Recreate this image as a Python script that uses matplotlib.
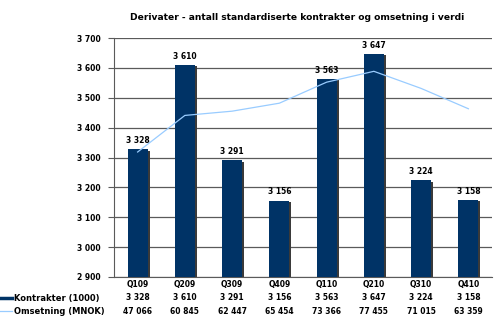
import matplotlib
matplotlib.use('Agg')
import matplotlib.pyplot as plt
import matplotlib.transforms as mtransforms
import numpy as np

# quarterly derivatives data
kvartal = ['Q109', 'Q209', 'Q309', 'Q409', 'Q110', 'Q210', 'Q310', 'Q410']
kontrakter = [3328, 3610, 3291, 3156, 3563, 3647, 3224, 3158]
omsetning = [47066, 60845, 62447, 65454, 73366, 77455, 71015, 63359]

tittel = 'Derivater - antall standardiserte kontrakter og omsetning i verdi'
serie_navn = ['Kontrakter (1000)', 'Omsetning (MNOK)']
y_ticks = [2900, 3000, 3100, 3200, 3300, 3400, 3500, 3600, 3700]

navy = '#003366'
lysbla = '#99ccff'
fnt = dict(family='DejaVu Sans', weight='bold')


def fmt(v):
    # norwegian style thousands separator
    return '{:,}'.format(v).replace(',', ' ')


fig = plt.figure(figsize=(4.95, 3.18), dpi=100)
ax = fig.add_axes([114/495, 41/318, 378/495, 239/318])

x = np.arange(len(kvartal))
w = 0.42

# shadow behind bars
shadow = mtransforms.offset_copy(ax.transData, fig=fig, x=2, y=-1.5, units='dots')
ax.bar(x, np.array(kontrakter) - 2900, w, bottom=2900, color='#3a3a3a',
       transform=shadow, zorder=2)
bars = ax.bar(x, np.array(kontrakter) - 2900, w, bottom=2900, color=navy, zorder=3)

for xi, v in zip(x, kontrakter):
    ax.annotate(fmt(v), (xi, v), xytext=(0, 3), textcoords='offset points',
                ha='center', va='bottom', fontsize=5.5, **fnt)

ax.set_ylim(2900, 3700)
ax.set_xlim(-0.5, len(kvartal) - 0.5)
ax.set_yticks(y_ticks)
ax.set_yticklabels([fmt(t) for t in y_ticks], fontsize=5.5, **fnt)
ax.yaxis.grid(True, color='#5a5a5a', linewidth=0.9, zorder=0)
ax.set_axisbelow(True)
ax.tick_params(axis='y', length=4, width=0.8, color='#5a5a5a', pad=5.5)
ax.set_xticks([])
for s in ['top', 'right']:
    ax.spines[s].set_visible(False)
ax.spines['left'].set_color('#5a5a5a')
ax.spines['bottom'].set_color('#5a5a5a')

# secondary (hidden) axis for turnover
ax2 = ax.twinx()
ax2.plot(x, omsetning, color=lysbla, linewidth=0.9, zorder=4)
ax2.set_ylim(0, 90000)
ax2.set_yticks([])
for s in ax2.spines.values():
    s.set_visible(False)

fig.text(297/495, 1 - 18/318, tittel, ha='center', va='center', fontsize=6.6, **fnt)

# data table below the axis
trans = mtransforms.blended_transform_factory(ax.transData, fig.transFigure)
rows_y = [1 - 284/318, 1 - 298/318, 1 - 311/318]
for xi, k in zip(x, kvartal):
    ax.text(xi, rows_y[0], k, transform=trans, ha='center', va='center', fontsize=5.5, **fnt)
for xi, v in zip(x, kontrakter):
    ax.text(xi, rows_y[1], fmt(v), transform=trans, ha='center', va='center', fontsize=5.5, **fnt)
for xi, v in zip(x, omsetning):
    ax.text(xi, rows_y[2], fmt(v), transform=trans, ha='center', va='center', fontsize=5.5, **fnt)

fig.add_artist(plt.Line2D([0, 12/495], [rows_y[1]] * 2, color=navy, linewidth=2.5))
fig.add_artist(plt.Line2D([0, 12/495], [rows_y[2]] * 2, color=lysbla, linewidth=0.9))
fig.text(14/495, rows_y[1], serie_navn[0], ha='left', va='center', fontsize=6, **fnt)
fig.text(14/495, rows_y[2], serie_navn[1], ha='left', va='center', fontsize=6, **fnt)

fig.savefig('out.png', dpi=100)
